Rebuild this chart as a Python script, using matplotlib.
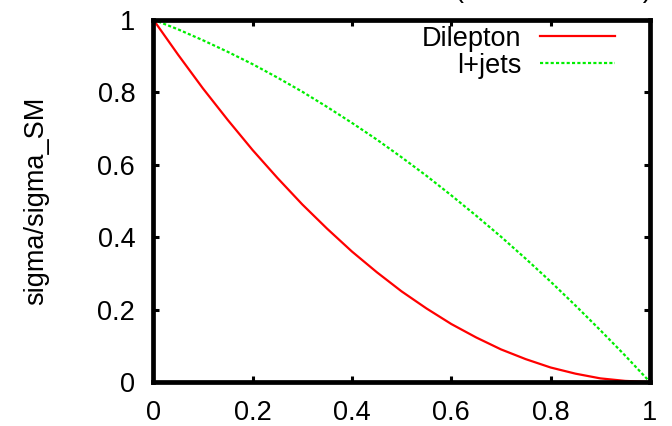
import matplotlib
matplotlib.use("Agg")
import matplotlib.pyplot as plt

plt.rcParams["font.family"] = ["Liberation Sans", "DejaVu Sans"]

# cross-section ratio vs fraction, read at steps of 0.05
frac = [0.0, 0.05, 0.1, 0.15, 0.2, 0.25, 0.3, 0.35, 0.4, 0.45, 0.5,
        0.55, 0.6, 0.65, 0.7, 0.75, 0.8, 0.85, 0.9, 0.95, 1.0]
dilepton = [1.0, 0.903, 0.81, 0.723, 0.64, 0.563, 0.49, 0.423, 0.36, 0.303, 0.25,
            0.203, 0.16, 0.123, 0.09, 0.063, 0.04, 0.023, 0.01, 0.003, 0.0]
ljets = [1.0, 0.973, 0.943, 0.911, 0.877, 0.840, 0.801, 0.759, 0.715, 0.669, 0.620,
         0.569, 0.515, 0.459, 0.401, 0.340, 0.277, 0.211, 0.143, 0.073, 0.0]

xticks = [0, 0.2, 0.4, 0.6, 0.8, 1]
xticklabels = ["0", "0.2", "0.4", "0.6", "0.8", "1"]
yticks = [0, 0.2, 0.4, 0.6, 0.8, 1]
yticklabels = ["0", "0.2", "0.4", "0.6", "0.8", "1"]

fs = 19.5

fig = plt.figure(figsize=(6.72, 4.26), dpi=100)
ax = fig.add_axes([0.2281, 0.1033, 0.7391, 0.8507])

ax.plot(frac, dilepton, color="#ff0000", lw=1.6, label="Dilepton")
ax.plot(frac, ljets, color="#00ee00", lw=1.6, linestyle=(0, (1.4, 1.0)),
        label="l+jets")

ax.set_xlim(0, 1)
ax.set_ylim(0, 1)
ax.set_xticks(xticks)
ax.set_xticklabels(xticklabels)
ax.set_yticks(yticks)
ax.set_yticklabels(yticklabels)
ax.tick_params(direction="in", length=4, width=2.2, top=True, right=True,
               labelsize=fs, pad=13)
for s in ax.spines.values():
    s.set_linewidth(3.4)

ax.set_ylabel("sigma/sigma_SM", fontsize=fs)
ax.yaxis.set_label_coords(-0.21, 0.5)

ax.legend(loc="upper right", bbox_to_anchor=(0.9295, 0.9834), frameon=False,
          fontsize=fs, markerfirst=False, handlelength=2.78, handletextpad=0.67,
          labelspacing=0.05, borderpad=0, borderaxespad=0)

# title sits mostly above the top edge
fig.text(455 / 672, 1.0 + 3 / 426, "(fraction of V+A)", fontsize=fs,
         ha="left", va="baseline")

fig.savefig("out.png", dpi=100)
